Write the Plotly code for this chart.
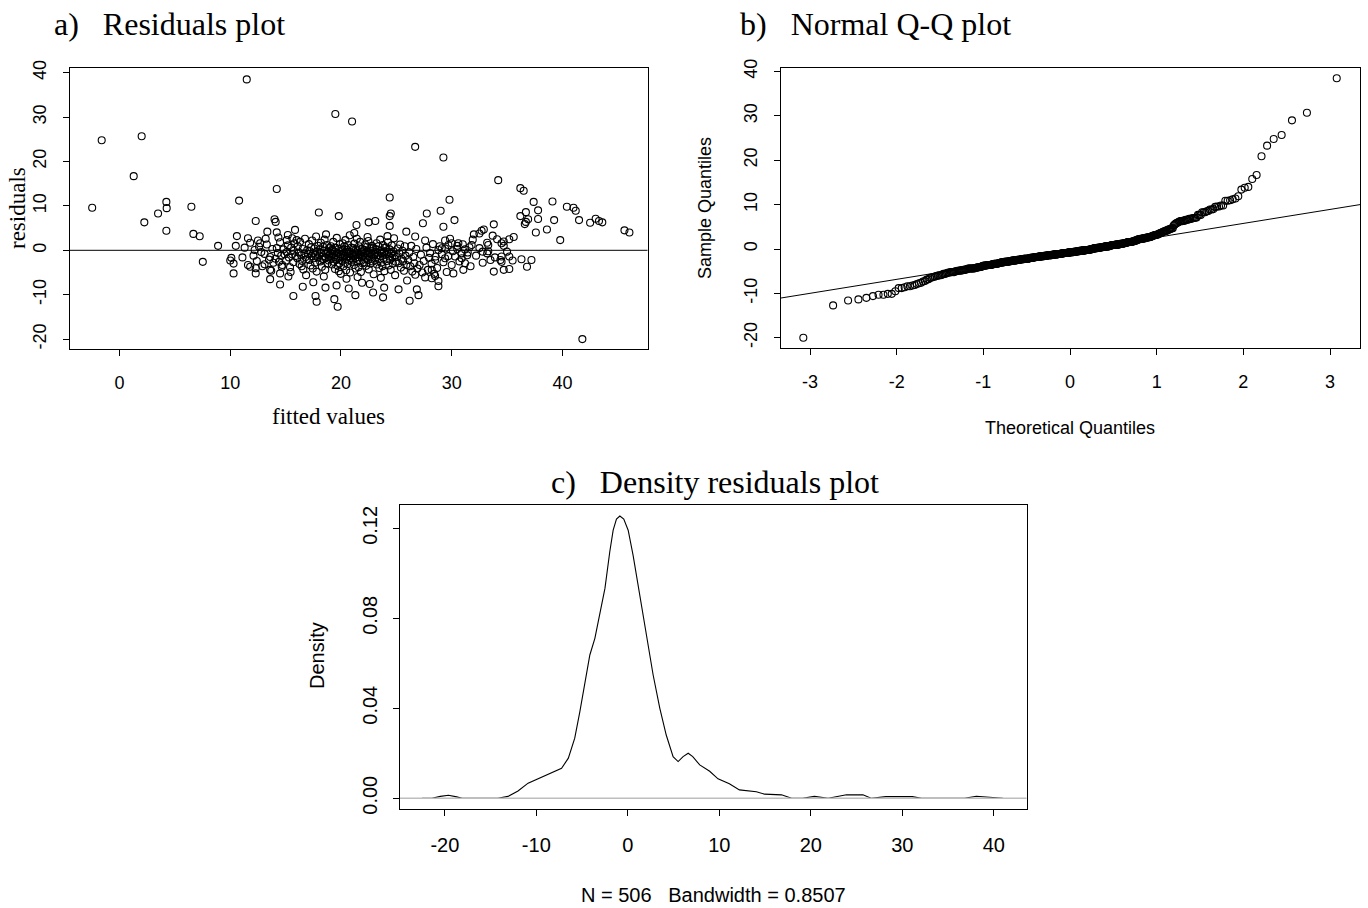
import numpy as np
import plotly.graph_objects as go
from statistics import NormalDist

# ---------------- data ----------------
# panel a: (fitted value, residual) pairs - sparse, individually readable points
sparse_points = [
    (-2.47, 9.6), (-1.61, 24.8), (1.28, 16.7), (2.0, 25.7), (2.24, 6.3), (3.48, 8.3), (4.23, 10.9),
    (4.26, 9.5), (4.23, 4.4), (6.49, 9.8), (6.67, 3.7), (7.24, 3.15), (7.52, -2.6), (8.9, 1.0),
    (11.49, 38.5), (19.49, 30.7), (21.0, 29.0), (14.2, 13.8), (10.8, 11.2), (26.7, 23.3), (29.25, 20.9),
    (34.2, 15.8), (24.4, 11.9), (29.8, 11.4), (36.2, 14.0), (36.5, 13.4), (37.4, 10.9), (39.1, 11.0),
    (40.4, 9.8), (41.0, 9.6),
    (41.2, 8.9), (36.7, 8.6), (37.8, 9.0), (36.2, 7.7), (36.9, 7.0), (36.7, 6.4), (36.6, 5.9), (37.8, 7.05),
    (39.25, 6.8), (41.5, 6.8), (42.5, 6.2), (43.0, 7.1), (43.3, 6.6), (43.6, 6.3), (38.6, 4.7), (37.6, 4.0),
    (39.8, 2.3), (45.6, 4.5), (46.05, 4.0), (35.6, 3.0), (35.2, 2.5), (34.7, 2.0), (34.5, 1.6), (34.7, 1.0),
    (35.0, -0.3), (35.2, -1.4), (35.5, -2.3), (34.5, -1.4), (34.5, -2.6), (36.3, -2.0), (37.2, -2.2),
    (36.8, -3.7), (34.7, -4.4), (35.2, -4.2), (41.8, -20.0),
    (33.8, 5.85), (32.0, 3.6), (32.7, 4.4), (32.9, 4.7), (32.5, 3.8), (34.1, 2.5), (33.2, 1.7), (33.3, 1.2),
    (31.8, 1.2), (31.6, 0.7), (31.0, 1.35), (30.6, 1.6), (30.5, 1.0), (32.8, -0.3), (33.2, -0.7), (33.5, -2.2),
    (33.9, -1.6), (34.4, -2.2), (33.8, -4.8), (31.4, -1.1), (30.9, -1.8), (31.2, -2.9), (31.05, -4.4),
    (30.25, 6.8), (29.25, 5.3), (29.0, 8.9), (27.75, 8.3), (27.4, 6.1), (24.5, 8.3), (24.4, 7.7), (24.4, 5.5),
    (22.5, 6.3), (23.1, 6.6), (21.4, 5.7), (25.9, 4.2), (24.2, 3.2), (26.7, 3.1), (27.6, 2.2), (29.4, 2.2),
    (29.7, 1.2), (30.0, 1.6), (29.1, 0.45), (28.8, 0.07), (29.4, -1.8), (30.0, -3.3), (30.15, -5.2),
    (28.5, -2.2), (28.2, -4.4), (28.5, -5.8), (28.8, -6.9), (28.2, -6.3), (25.2, -8.8), (26.85, -8.8),
    (27.0, -10.1), (26.2, -11.35), (23.9, -8.4), (23.8, -10.6), (22.9, -9.5), (21.9, -7.3), (21.3, -10.1),
    (18.0, 8.5), (19.8, 7.7), (12.3, 6.6), (14.0, 7.0), (14.1, 6.4), (13.35, 4.2), (14.2, 4.05), (10.6, 3.2),
    (11.6, 2.7), (11.8, 1.7), (10.5, 1.0), (11.3, 0.6), (12.2, 0.07), (12.7, 1.6), (10.1, -1.7),
    (10.0, -2.3), (10.3, -3.0), (10.3, -5.2), (11.1, -1.6), (11.6, -3.3), (11.8, -3.7), (12.3, -4.05),
    (12.3, -5.2), (13.6, -6.5), (14.5, -7.7), (15.7, -10.3), (16.55, -8.2), (17.7, -10.3), (17.8, -11.6),
    (18.6, -8.4), (19.4, -11.0), (19.7, -12.7), (13.1, -3.15), (13.6, -4.4), (14.5, -5.2), (15.25, -5.9),
    (14.65, -3.7), (15.85, 4.6), (15.2, 3.45), (15.6, 2.7), (15.1, 2.3), (16.0, 2.3),
]

# panel a: dense central cloud (estimated, overlapping circles)
cluster_points = [
    (12.1, -1.2), (12.4, -2.4), (12.6, 0.8), (12.8, -0.4), (12.9, -3.6), (12.5, 2.2),
    (13.1, -0.8), (13.3, 1.3), (13.5, -2.1), (13.6, -1.5), (13.8, 0.3), (13.9, -2.8), (13.2, 2.6), (13.7, -4.6),
    (14.1, -1.9), (14.2, 0.5), (14.3, -0.6), (14.4, -2.6), (14.5, 1.8), (14.6, -1.2), (14.7, -3.3), (14.8, 0.2),
    (14.9, -0.9), (14.35, 2.9),
    (15.05, -2.3), (15.1, -0.4), (15.2, 1.1), (15.3, -1.6), (15.4, -3.8), (15.5, 0.6), (15.6, -0.9), (15.7, -2.7),
    (15.8, 1.6), (15.9, -1.3), (15.45, -4.9), (15.75, -0.1),
    (16.05, -1.8), (16.1, 0.9), (16.2, -0.5), (16.25, -3.1), (16.3, 1.9), (16.4, -1.1), (16.5, -2.4), (16.55, 0.3),
    (16.6, -4.3), (16.7, -0.7), (16.75, 2.6), (16.8, -1.5), (16.85, -5.6), (16.9, -2.0), (16.95, 0.0), (16.45, -3.6),
    (17.05, -0.9), (17.1, 1.4), (17.15, -2.2), (17.2, -0.2), (17.25, -3.4), (17.3, 0.7), (17.35, -1.3), (17.4, 2.2),
    (17.45, -4.1), (17.5, -0.6), (17.55, -1.8), (17.6, 0.4), (17.65, -2.8), (17.7, -1.0), (17.75, 3.1), (17.8, -4.8),
    (17.85, -0.3), (17.9, -1.6), (17.95, 1.0), (17.5, -7.2),
    (18.02, -1.1), (18.08, 0.2), (18.12, -2.5), (18.18, 1.7), (18.22, -0.6), (18.28, -3.7), (18.32, -1.4),
    (18.38, 0.8), (18.42, -2.0), (18.48, -0.1), (18.52, 2.4), (18.58, -4.4), (18.62, -1.7), (18.68, -0.8),
    (18.72, 1.2), (18.78, -3.0), (18.82, -0.4), (18.88, -2.3), (18.92, 0.5), (18.97, -1.2), (18.45, -5.9),
    (18.65, 3.6), (18.3, -1.9), (18.85, -0.2),
    (19.02, -0.7), (19.06, -2.0), (19.1, 0.9), (19.14, -1.3), (19.18, -3.2), (19.22, 0.1), (19.26, -0.9),
    (19.3, 1.9), (19.34, -2.6), (19.38, -1.5), (19.42, -0.3), (19.46, -4.2), (19.5, 0.6), (19.54, -1.1),
    (19.58, -2.2), (19.62, 2.8), (19.66, -0.5), (19.7, -3.5), (19.74, -1.8), (19.78, 0.3), (19.82, -0.8),
    (19.86, -2.9), (19.9, 1.4), (19.94, -1.4), (19.98, -5.3), (19.6, -7.9), (19.25, -0.1), (19.8, -4.7),
    (20.02, -1.0), (20.05, 0.4), (20.09, -2.4), (20.12, -0.2), (20.16, 1.6), (20.19, -1.6), (20.23, -3.6),
    (20.26, -0.6), (20.3, 0.9), (20.33, -1.2), (20.37, -2.8), (20.4, 2.3), (20.44, -0.4), (20.47, -4.5),
    (20.51, -1.9), (20.54, 0.1), (20.58, -0.9), (20.61, -3.1), (20.65, 1.2), (20.68, -1.4), (20.72, -2.2),
    (20.75, -0.3), (20.79, 3.4), (20.82, -5.0), (20.86, -0.7), (20.89, -1.7), (20.93, 0.6), (20.96, -2.6),
    (20.5, -6.4), (20.7, -8.6),
    (21.03, -0.8), (21.07, -2.1), (21.1, 0.5), (21.14, -1.3), (21.18, -3.3), (21.21, 1.5), (21.25, -0.5),
    (21.29, -1.8), (21.32, -4.1), (21.36, 0.2), (21.4, -1.0), (21.43, 2.6), (21.47, -2.5), (21.51, -0.2),
    (21.54, -1.5), (21.58, -3.8), (21.62, 0.9), (21.65, -0.9), (21.69, -2.3), (21.73, 1.9), (21.76, -1.1),
    (21.8, -4.9), (21.84, -0.4), (21.87, -1.6), (21.91, 0.3), (21.95, -2.9), (21.5, -6.0), (21.2, 3.9),
    (22.03, -1.2), (22.07, 0.1), (22.11, -2.7), (22.15, -0.6), (22.19, 1.3), (22.23, -1.7), (22.27, -3.5),
    (22.31, -0.3), (22.35, 0.8), (22.39, -1.0), (22.43, -2.2), (22.47, 2.1), (22.51, -4.3), (22.55, -0.7),
    (22.59, -1.4), (22.63, 0.4), (22.67, -3.0), (22.71, -0.1), (22.75, -1.9), (22.79, 1.0), (22.83, -0.9),
    (22.87, -2.5), (22.91, 0.6), (22.95, -5.4), (22.6, -7.6), (22.4, 3.0),
    (23.04, -0.9), (23.08, -2.3), (23.13, 0.3), (23.17, -1.5), (23.21, 1.6), (23.25, -3.2), (23.29, -0.5),
    (23.33, -1.1), (23.38, 0.9), (23.42, -2.0), (23.46, -4.0), (23.5, -0.2), (23.54, 2.4), (23.58, -1.3),
    (23.63, -2.8), (23.67, 0.0), (23.71, -0.7), (23.75, -3.6), (23.79, 1.2), (23.83, -1.8), (23.88, -0.4),
    (23.92, -4.7), (23.96, 0.6), (23.6, -6.2),
    (24.04, -1.0), (24.09, 0.7), (24.14, -2.4), (24.19, -0.4), (24.24, 1.8), (24.29, -3.4), (24.34, -1.4),
    (24.39, 0.2), (24.44, -2.1), (24.49, -4.4), (24.54, -0.8), (24.59, 1.1), (24.64, -1.7), (24.69, -3.0),
    (24.74, -0.2), (24.79, 2.7), (24.84, -1.2), (24.89, -5.6), (24.94, -2.6), (24.5, -0.6),
    (25.05, -1.5), (25.12, 0.4), (25.2, -2.9), (25.27, -0.7), (25.34, 1.3), (25.41, -3.9), (25.48, -1.9),
    (25.55, -0.1), (25.62, -2.4), (25.69, -4.6), (25.76, 0.9), (25.83, -1.2), (25.9, -3.3), (25.97, -6.8),
    (26.08, -2.2), (26.17, -0.5), (26.26, -3.6), (26.35, 1.0), (26.44, -4.8), (26.53, -1.5), (26.62, -2.9),
    (26.71, -5.5), (26.8, 0.3), (26.9, -4.1),
    (27.1, -3.3), (27.22, -1.0), (27.35, -5.0), (27.47, -2.4), (27.6, -6.1), (27.72, 0.6), (27.85, -4.4),
    (27.95, -1.7),
    (28.05, -0.6), (28.18, -3.0), (28.3, 1.4), (28.42, -5.3), (28.55, -1.4), (28.68, -4.0), (28.8, -8.1),
    (28.92, 0.9),
    (29.1, -0.9), (29.25, -2.7), (29.4, 0.4), (29.55, -4.9), (29.7, -1.3), (29.85, 2.6),
    (30.1, -0.2), (30.3, -1.4), (30.5, 0.3), (30.7, -2.5), (30.9, -0.7),
    (31.2, 0.2), (31.45, -0.5), (31.7, -3.6), (31.9, 2.4),
    (32.2, -1.2), (32.5, 0.5), (32.8, -2.8),
    (33.3, -0.2), (33.7, 3.3),
]

all_points = sparse_points + cluster_points
fitted = [p[0] for p in all_points]
residuals = [p[1] for p in all_points]

# panel c: kernel density curve
density_x = [-22.5, -21.4, -20.5, -19.6, -18.7, -18.1, -16.0, -14.2, -13.1, -12.0, -10.9, -9.8, -8.5,
             -7.24, -6.5, -5.8, -5.24, -4.5, -4.15, -3.6, -2.87, -2.5, -1.97, -1.6, -1.24, -0.87, -0.44,
             0.04, 0.58, 1.13, 1.67, 2.2, 2.77, 3.5, 4.2, 4.95, 5.5, 6.04, 6.6, 7.1, 7.86, 8.95, 9.86,
             11.1, 12.2, 14.05, 14.95, 16.8, 17.9, 19.1, 20.4, 21.9, 23.9, 25.7, 26.6, 28.2, 31.1, 32.1,
             36.8, 38.1, 39.2, 40.3, 41.0]
density_y = [0.0, 0.0, 0.0008, 0.0013, 0.0006, 0.0, 0.0, 0.0, 0.0008, 0.0032, 0.0067, 0.0086, 0.0111,
             0.0133, 0.0178, 0.0267, 0.0385, 0.0563, 0.0637, 0.0711, 0.0859, 0.0933, 0.1096, 0.1192,
             0.1241, 0.1255, 0.1241, 0.1192, 0.108, 0.0948, 0.0815, 0.0681, 0.0548, 0.040, 0.0281,
             0.0185, 0.0163, 0.0185, 0.020, 0.0185, 0.0148, 0.0120, 0.0086, 0.0064, 0.0037, 0.0029,
             0.0018, 0.0015, 0.0, 0.0, 0.0008, 0.0, 0.0015, 0.0015, 0.0, 0.0007, 0.0007, 0.0, 0.0,
             0.0009, 0.0005, 0.0, 0.0]

a_x_ticks = [0, 10, 20, 30, 40]
resid_ticks = [-20, -10, 0, 10, 20, 30, 40]
qq_x_ticks = [-3, -2, -1, 0, 1, 2, 3]
dens_x_ticks = [-20, -10, 0, 10, 20, 30, 40]
dens_y_ticks = [0.0, 0.04, 0.08, 0.12]
n_obs = 506
bandwidth = 0.8507

# ---------------- derived: normal Q-Q ----------------
nd = NormalDist()
n = len(residuals)
sample_q = sorted(residuals)
theo_q = [nd.inv_cdf((i + 0.5) / n) for i in range(n)]
q1, q3 = np.quantile(residuals, [0.25, 0.75])
z1, z3 = nd.inv_cdf(0.25), nd.inv_cdf(0.75)
slope = (q3 - q1) / (z3 - z1)
intercept = q1 - slope * z1

# ---------------- layout helpers ----------------
W, H = 1368, 908
SANS = "Liberation Sans, Arial, sans-serif"
SERIF = "Liberation Serif, Times New Roman, serif"


def fx(p):
    return p / W


def fy(p):
    return 1 - p / H


def hy(vals, fmt="{:g}"):
    # R draws a plain hyphen-minus for negative tick labels
    return [fmt.format(v) for v in vals]


A_XR = [-4.5, 47.7]
A_YR = [-22.3, 41.0]
B_XR = [-3.335, 3.346]
B_YR = [-22.3, 40.8]
C_XR = [-24.9, 43.6]
C_YR = [-0.0048, 0.1304]

marker = dict(symbol="circle-open", size=7, color="black", line=dict(width=1.1, color="black"))

fig = go.Figure()
fig.add_trace(go.Scatter(x=fitted, y=residuals, mode="markers", marker=marker,
                         xaxis="x", yaxis="y", showlegend=False, cliponaxis=False))
fig.add_trace(go.Scatter(x=A_XR, y=[0, 0], mode="lines", line=dict(color="black", width=1),
                         xaxis="x", yaxis="y", showlegend=False))
fig.add_trace(go.Scatter(x=theo_q, y=sample_q, mode="markers", marker=marker,
                         xaxis="x2", yaxis="y2", showlegend=False, cliponaxis=False))
fig.add_trace(go.Scatter(x=B_XR, y=[intercept + slope * B_XR[0], intercept + slope * B_XR[1]],
                         mode="lines", line=dict(color="black", width=1),
                         xaxis="x2", yaxis="y2", showlegend=False))
fig.add_trace(go.Scatter(x=density_x, y=density_y, mode="lines", line=dict(color="black", width=1.1),
                         xaxis="x3", yaxis="y3", showlegend=False))
fig.add_trace(go.Scatter(x=C_XR, y=[0, 0], mode="lines", line=dict(color="#bebebe", width=1.6),
                         xaxis="x3", yaxis="y3", showlegend=False))

common = dict(showgrid=False, zeroline=False, showline=True, mirror=True, linecolor="black",
              linewidth=1, ticks="outside", ticklen=6, tickcolor="black", tickwidth=1,
              automargin=False)

tick18 = dict(family=SANS, size=18, color="black")
tick20 = dict(family=SANS, size=20, color="black")

fig.update_layout(
    template="none",
    width=W, height=H, margin=dict(l=0, r=0, t=0, b=0, pad=0), autosize=False,
    paper_bgcolor="white", plot_bgcolor="white", showlegend=False,
    xaxis=dict(domain=[fx(69.7), fx(647.7)], range=A_XR, anchor="y", tickvals=a_x_ticks,
               ticktext=hy(a_x_ticks), tickfont=tick18, ticklabelstandoff=11, **common),
    yaxis=dict(domain=[fy(349.3), fy(68.3)], range=A_YR, anchor="x", tickvals=resid_ticks,
               ticktext=hy(resid_ticks), tickangle=-90, tickfont=tick18, ticklabelstandoff=10,
               **common),
    xaxis2=dict(domain=[fx(781), fx(1360)], range=B_XR, anchor="y2", tickvals=qq_x_ticks,
                ticktext=hy(qq_x_ticks), tickfont=tick18, ticklabelstandoff=11, **common),
    yaxis2=dict(domain=[fy(348), fy(68)], range=B_YR, anchor="x2", tickvals=resid_ticks,
                ticktext=hy(resid_ticks), tickangle=-90, tickfont=tick18, ticklabelstandoff=10,
                **common),
    xaxis3=dict(domain=[fx(400), fx(1026.7)], range=C_XR, anchor="y3", tickvals=dens_x_ticks,
                ticktext=hy(dens_x_ticks), tickfont=tick20, ticklabelstandoff=12, **common),
    yaxis3=dict(domain=[fy(809), fy(505)], range=C_YR, anchor="x3", tickvals=dens_y_ticks,
                ticktext=hy(dens_y_ticks, "{:.2f}"), tickangle=-90, tickfont=tick20,
                ticklabelstandoff=8, **common),
)

NB = "\u00a0"
annotations = [
    dict(text="a)" + NB * 3 + "Residuals plot", x=fx(52), y=fy(24), xanchor="left", yanchor="middle",
         font=dict(family=SERIF, size=32, color="black")),
    dict(text="b)" + NB * 3 + "Normal Q-Q plot", x=fx(738), y=fy(24), xanchor="left", yanchor="middle",
         font=dict(family=SERIF, size=32, color="black")),
    dict(text="c)" + NB * 3 + "Density residuals plot", x=fx(549), y=fy(482), xanchor="left",
         yanchor="middle", font=dict(family=SERIF, size=32, color="black")),
    dict(text="fitted values", x=fx(328.5), y=fy(416), xanchor="center", yanchor="middle",
         font=dict(family=SERIF, size=23, color="black")),
    dict(text="residuals", x=fx(17), y=fy(208), xanchor="center", yanchor="middle", textangle=-90,
         font=dict(family=SERIF, size=23, color="black")),
    dict(text="Theoretical Quantiles", x=fx(1070), y=fy(428), xanchor="center", yanchor="middle",
         font=dict(family=SANS, size=18, color="black")),
    dict(text="Sample Quantiles", x=fx(705), y=fy(208), xanchor="center", yanchor="middle",
         textangle=-90, font=dict(family=SANS, size=18, color="black")),
    dict(text="Density", x=fx(317), y=fy(656), xanchor="center", yanchor="middle", textangle=-90,
         font=dict(family=SANS, size=20, color="black")),
    dict(text=f"N = {n_obs}" + NB * 3 + f"Bandwidth = {bandwidth}", x=fx(713), y=fy(895),
         xanchor="center", yanchor="middle", font=dict(family=SANS, size=20, color="black")),
]
for a in annotations:
    a.update(xref="paper", yref="paper", showarrow=False)
fig.update_layout(annotations=annotations)

fig.write_html("out.html", config={"displayModeBar": False, "staticPlot": True},
               post_script="document.body.style.margin='0';document.body.style.overflow='hidden';")
